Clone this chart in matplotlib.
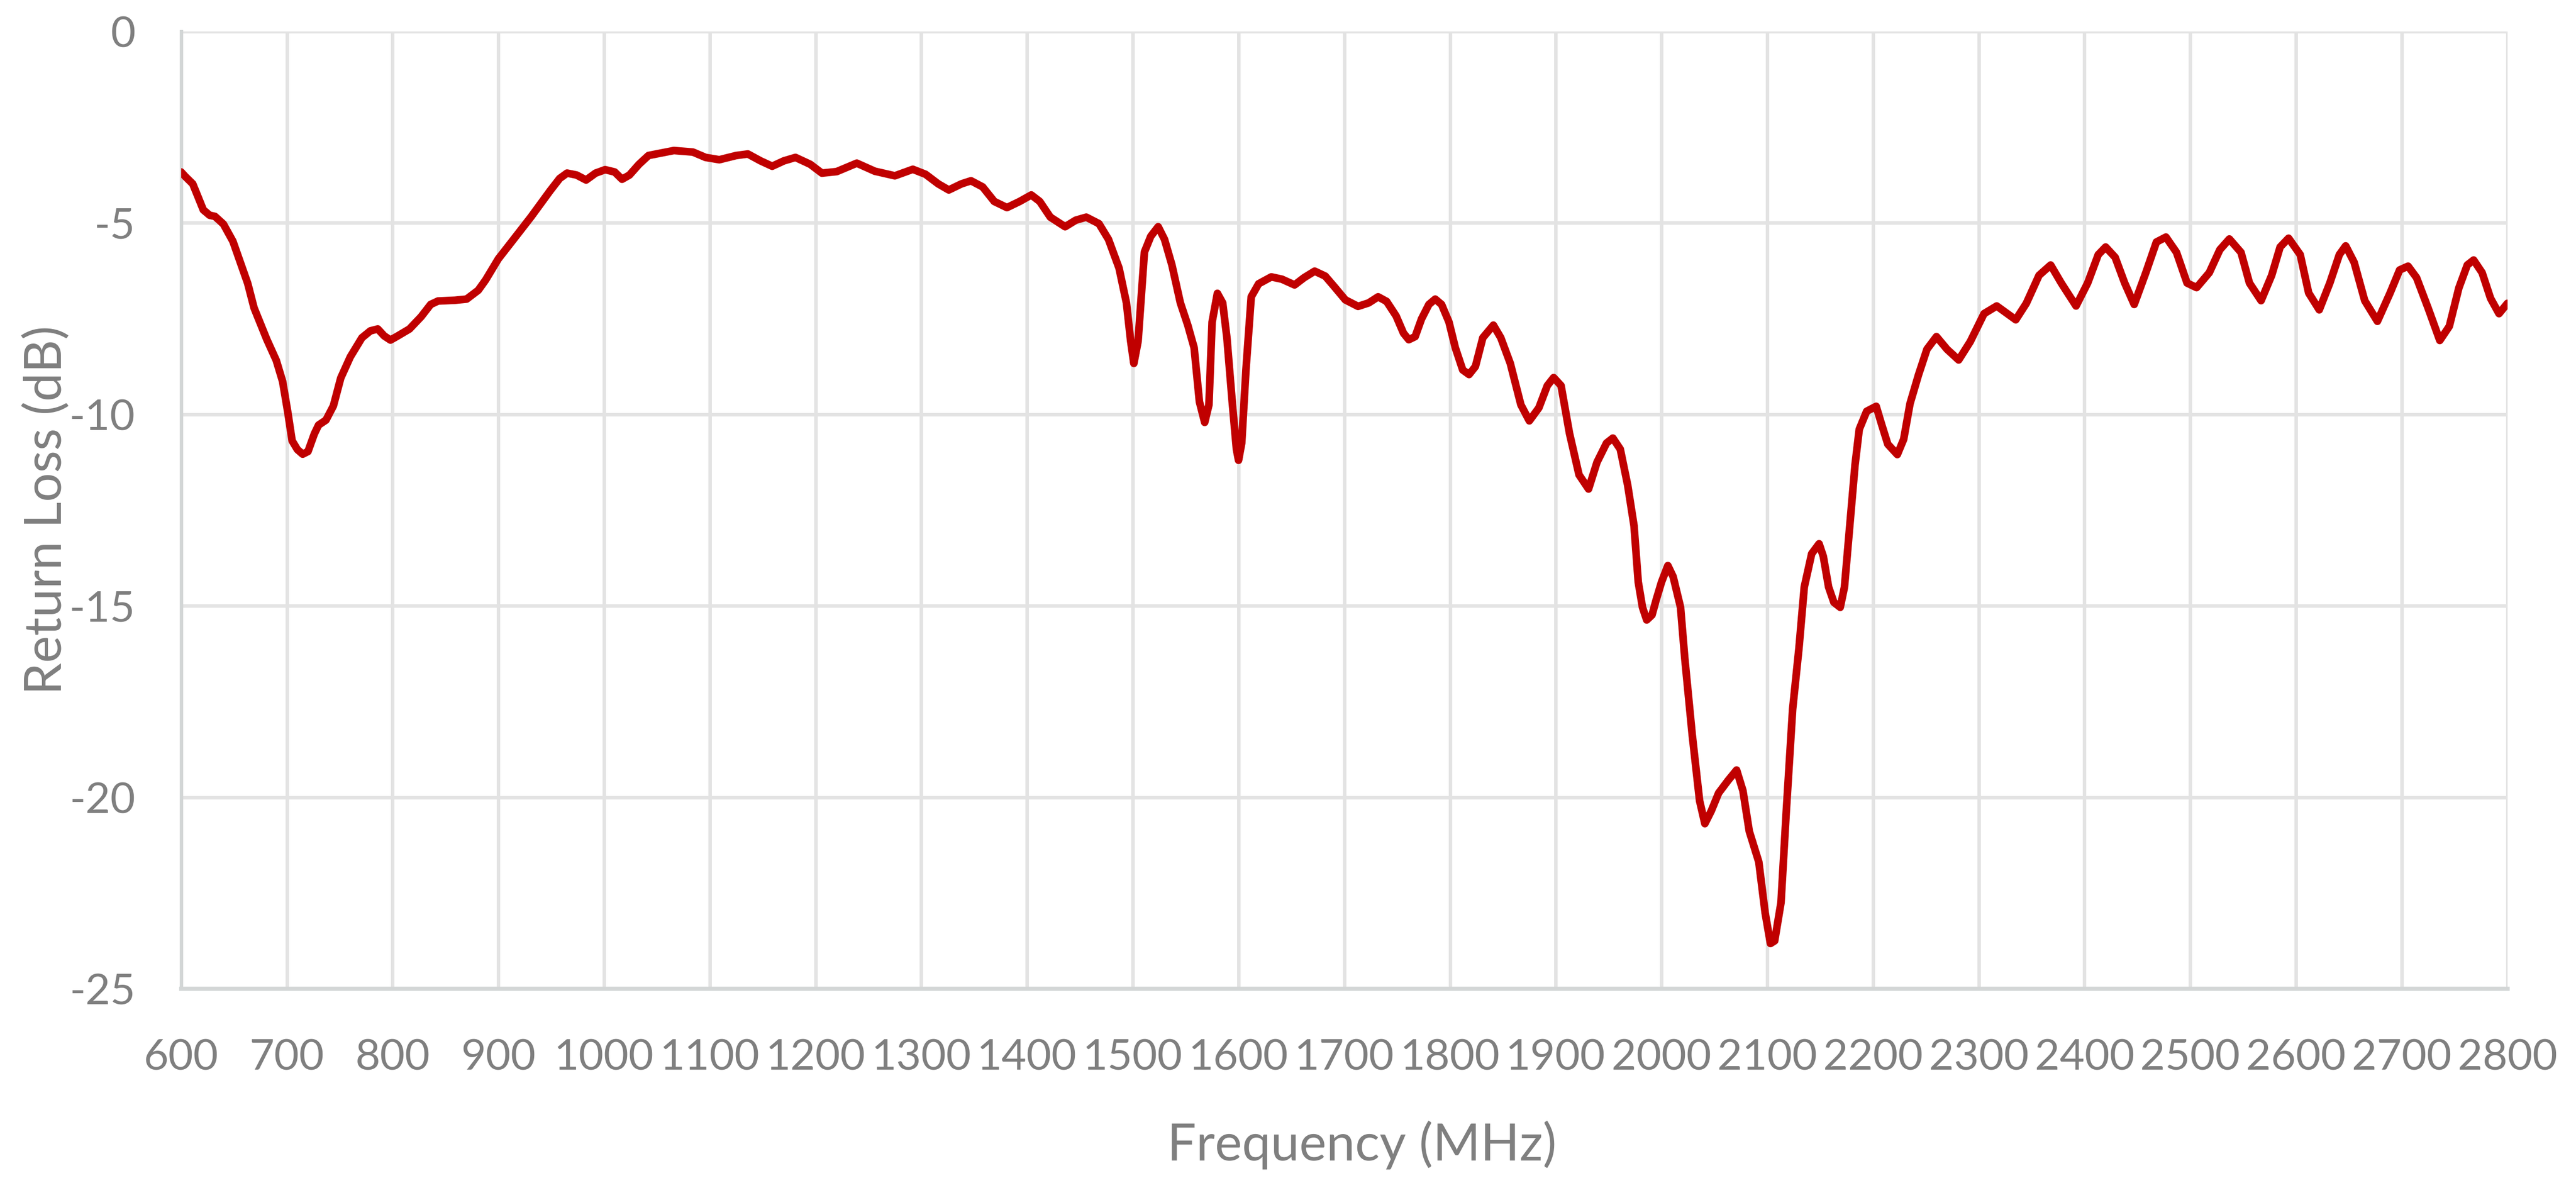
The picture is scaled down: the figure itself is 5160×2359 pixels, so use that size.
import matplotlib
matplotlib.use("Agg")
import matplotlib.pyplot as plt

freq_mhz = [
    600, 604, 611, 615, 621, 627, 632, 640, 649, 656, 663, 669, 681, 690, 696,
    701, 705, 710, 715, 720, 726, 730, 737, 744, 751, 760, 771, 779, 786, 792,
    798, 805, 816, 827, 836, 843, 859, 870, 881, 888, 900, 913, 931, 949, 958,
    965, 974, 983, 992, 1001, 1010, 1017, 1024, 1033, 1042, 1053, 1066, 1084,
    1096, 1109, 1125, 1136, 1148, 1159, 1170, 1181, 1195, 1206, 1220, 1239,
    1256, 1275, 1292, 1304, 1316, 1326, 1338, 1347, 1358, 1369, 1381, 1393,
    1404, 1412, 1422, 1436, 1446, 1456, 1468, 1477, 1487, 1494, 1498, 1501,
    1505, 1508, 1511, 1517, 1524, 1530, 1537, 1545, 1552, 1558, 1563, 1568,
    1572, 1575, 1580, 1585, 1589, 1594, 1598, 1600, 1603, 1607, 1612, 1619,
    1631, 1641, 1653, 1662, 1672, 1682, 1691, 1701, 1713, 1723, 1732, 1740,
    1749, 1756, 1761, 1767, 1773, 1780, 1786, 1792, 1799, 1805, 1812, 1818,
    1824, 1831, 1841, 1848, 1857, 1867, 1875, 1884, 1892, 1898, 1905, 1913,
    1922, 1931, 1939, 1948, 1954, 1961, 1968, 1974, 1978, 1982, 1986, 1991,
    1995, 2000, 2006, 2011, 2018, 2022, 2029, 2036, 2041, 2047, 2054, 2063,
    2071, 2077, 2083, 2092, 2098, 2103, 2107, 2113, 2118, 2124, 2130, 2135,
    2142, 2149, 2153, 2158, 2163, 2169, 2173, 2178, 2183, 2187, 2194, 2203,
    2208, 2214, 2223, 2229, 2235, 2243, 2251, 2260, 2270, 2281, 2292, 2305,
    2317, 2335, 2345, 2357, 2368, 2378, 2392, 2403, 2413, 2420, 2429, 2438,
    2447, 2458, 2468, 2477, 2487, 2497, 2506, 2518, 2528, 2537, 2548, 2556,
    2567, 2577, 2585, 2593, 2604, 2612, 2622, 2632, 2641, 2647, 2655, 2665,
    2677, 2689, 2698, 2706, 2714, 2725, 2736, 2745, 2754, 2762, 2768, 2776,
    2784, 2792, 2800,
]
return_loss_db = [
    -3.67, -3.79, -3.98, -4.25, -4.66, -4.80, -4.83, -5.03, -5.48, -6.03,
    -6.58, -7.22, -8.04, -8.59, -9.14, -9.96, -10.69, -10.92, -11.04, -10.97,
    -10.51, -10.28, -10.15, -9.78, -9.05, -8.5, -8.0, -7.82, -7.77, -7.95,
    -8.06, -7.95, -7.77, -7.45, -7.13, -7.04, -7.02, -6.99, -6.76, -6.49,
    -5.94, -5.48, -4.84, -4.16, -3.84, -3.70, -3.75, -3.88, -3.70, -3.61,
    -3.67, -3.86, -3.75, -3.47, -3.24, -3.18, -3.11, -3.15, -3.29, -3.35,
    -3.24, -3.20, -3.38, -3.52, -3.38, -3.29, -3.47, -3.70, -3.66, -3.44,
    -3.65, -3.77, -3.60, -3.73, -3.98, -4.14, -3.98, -3.90, -4.06, -4.44,
    -4.60, -4.44, -4.27, -4.44, -4.85, -5.10, -4.93, -4.85, -5.02, -5.43,
    -6.18, -7.09, -8.09, -8.67, -8.09, -6.93, -5.76, -5.35, -5.10, -5.43,
    -6.10, -7.09, -7.67, -8.26, -9.67, -10.21, -9.75, -7.59, -6.84, -7.09,
    -8.0, -9.67, -10.91, -11.2, -10.75, -8.84, -6.93, -6.59, -6.41, -6.47,
    -6.62, -6.43, -6.26, -6.39, -6.68, -7.01, -7.18, -7.09, -6.93, -7.05,
    -7.43, -7.88, -8.05, -7.97, -7.51, -7.13, -6.99, -7.13, -7.59, -8.26,
    -8.84, -8.96, -8.75, -8.0, -7.67, -8.0, -8.67, -9.75, -10.17, -9.83,
    -9.25, -9.04, -9.25, -10.5, -11.58, -11.95, -11.25, -10.75, -10.62,
    -10.91, -11.85, -12.91, -14.38, -15.04, -15.37, -15.24, -14.84, -14.38,
    -13.95, -14.24, -15.04, -16.37, -18.36, -20.09, -20.69, -20.36, -19.89,
    -19.56, -19.29, -19.83, -20.89, -21.69, -23.02, -23.82, -23.75, -22.75,
    -20.36, -17.7, -16.1, -14.51, -13.64, -13.38, -13.71, -14.51, -14.91,
    -15.04, -14.51, -12.91, -11.32, -10.39, -9.92, -9.79, -10.25, -10.78,
    -11.05, -10.65, -9.72, -8.97, -8.3, -7.97, -8.3, -8.58, -8.1, -7.37,
    -7.17, -7.53, -7.1, -6.37, -6.1, -6.57, -7.17, -6.57, -5.83, -5.63,
    -5.9, -6.57, -7.13, -6.3, -5.5, -5.37, -5.77, -6.57, -6.69, -6.3,
    -5.7, -5.42, -5.77, -6.57, -7.03, -6.37, -5.63, -5.4, -5.83, -6.83,
    -7.27, -6.57, -5.83, -5.6, -6.03, -7.03, -7.57, -6.83, -6.23, -6.13,
    -6.43, -7.23, -8.07, -7.7, -6.7, -6.1, -5.97, -6.3, -6.97, -7.37, -7.1,
]
x_ticks = list(range(600, 2801, 100))
y_ticks = [0, -5, -10, -15, -20, -25]

line_color = "#C00000"
grid_color = "#E3E3E3"
text_color = "#7F7F7F"

plt.rcParams["font.family"] = ["Lato", "DejaVu Sans"]

fig = plt.figure(figsize=(51.6, 23.59), dpi=100)
ax = fig.add_axes([0.0703, 0.1607, 0.9031, 0.8126])

ax.plot(freq_mhz, return_loss_db, color=line_color, linewidth=11,
        solid_joinstyle="round", solid_capstyle="round", zorder=3)

ax.set_xlim(600, 2800)
ax.set_ylim(-25, 0)
ax.set_xticks(x_ticks)
ax.set_yticks(y_ticks)
ax.set_xticklabels([str(t) for t in x_ticks])
ax.set_yticklabels([str(t) for t in y_ticks])

ax.grid(True, color=grid_color, linewidth=5, zorder=0)
ax.set_axisbelow(True)
ax.tick_params(axis="both", length=0, labelsize=62, colors=text_color)
ax.tick_params(axis="x", pad=72)
ax.tick_params(axis="y", pad=66)

for side in ["top", "right"]:
    ax.spines[side].set_visible(False)
ax.spines["left"].set_color("#D3D6D6")
ax.spines["left"].set_linewidth(5)
ax.spines["bottom"].set_color("#D3D6D6")
ax.spines["bottom"].set_linewidth(6)

# axis titles placed where the reference has them
fig.text(2728 / 5160, 1 - 2293 / 2359, "Frequency (MHz)", fontsize=74,
         color=text_color, ha="center", va="center")
fig.text(93 / 5160, 1 - 1021 / 2359, "Return Loss (dB)", fontsize=74,
         color=text_color, ha="center", va="center", rotation=90)

fig.savefig("out.png", dpi=100, facecolor="white")
